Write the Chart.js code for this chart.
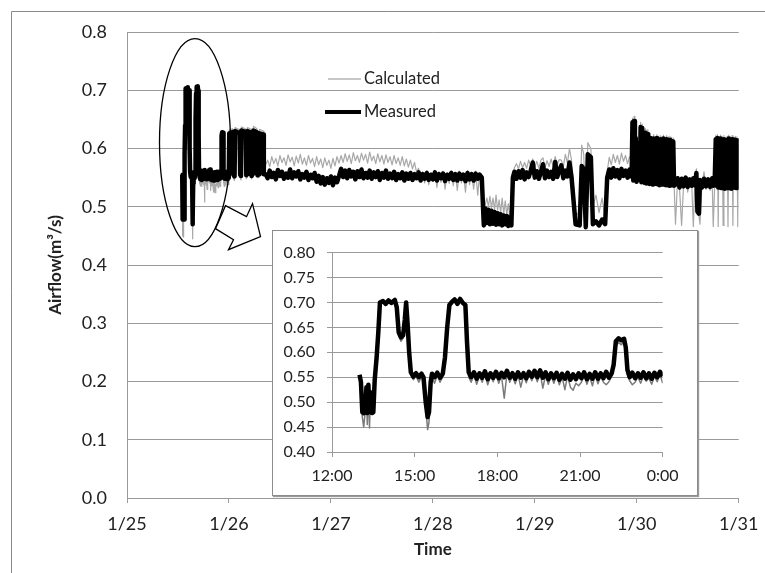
<!DOCTYPE html>
<html>
<head>
<meta charset="utf-8">
<script src="https://cdn.jsdelivr.net/npm/chart.js@4.4.0/dist/chart.umd.min.js"></script>
<style>
  html, body { margin: 0; padding: 0; background: #fff; }
  #wrap { position: relative; width: 765px; height: 573px; overflow: hidden; }
  #main { position: absolute; left: 0; top: 0; }
  #insetBox { position: absolute; left: 272px; top: 230px; width: 424px; height: 264px;
    border: 1px solid #8c8c8c; box-shadow: 1px 1px 1px #9a9a9a; background: #fff; }
  #inset { position: absolute; left: 0; top: 0; }
</style>
</head>
<body>
<div id="wrap">
  <canvas id="main" width="765" height="573"></canvas>
  <div id="insetBox"><canvas id="inset" width="424" height="264"></canvas></div>
</div>
<script>
// axis labels
const mainTickLabels = ['1/25', '1/26', '1/27', '1/28', '1/29', '1/30', '1/31'];
const insetTickLabels = ['12:00', '15:00', '18:00', '21:00', '0:00'];

// 1/25 afternoon, hours after 12:00 (shown in the inset, and in the main chart)
const insetHours = [
  1.00, 1.05, 1.10, 1.15, 1.20, 1.25, 1.28, 1.32, 1.36, 1.40, 1.45, 1.50, 1.55, 1.62, 1.68, 1.74,
  1.85, 1.95, 2.05, 2.15, 2.28, 2.35, 2.42, 2.50, 2.58, 2.64, 2.69, 2.74, 2.80, 2.86, 2.95, 3.05,
  3.15, 3.25, 3.32, 3.40, 3.47, 3.52, 3.58, 3.63, 3.72, 3.82, 3.92, 4.02, 4.10, 4.18, 4.26, 4.35,
  4.45, 4.55, 4.65, 4.75, 4.84, 4.90, 4.96,
  5.05, 5.15, 5.25, 5.35, 5.45, 5.55, 5.65, 5.75, 5.85, 5.95, 6.05, 6.15, 6.25, 6.35, 6.45, 6.55,
  6.65, 6.75, 6.85, 6.95, 7.05, 7.15, 7.25, 7.35, 7.45, 7.55, 7.65, 7.75, 7.85, 7.95, 8.05, 8.15,
  8.25, 8.35, 8.45, 8.55, 8.65, 8.75, 8.85, 8.95, 9.05, 9.15, 9.25, 9.35, 9.45, 9.55, 9.65, 9.75,
  9.85, 9.95, 10.05, 10.15,
  10.22, 10.30, 10.40, 10.50, 10.60, 10.66, 10.72, 10.80, 10.90, 11.00, 11.10, 11.20, 11.30, 11.40,
  11.50, 11.60, 11.70, 11.80, 11.90, 12.00
];
const insetMeasured = [
  0.555, 0.540, 0.480, 0.478, 0.482, 0.530, 0.478, 0.535, 0.480, 0.520, 0.478, 0.480, 0.545, 0.590, 0.640, 0.700,
  0.703, 0.697, 0.704, 0.699, 0.705, 0.690, 0.640, 0.630, 0.634, 0.665, 0.700, 0.660, 0.600, 0.560, 0.551, 0.558,
  0.550, 0.557, 0.550, 0.500, 0.470, 0.480, 0.540, 0.557, 0.550, 0.559, 0.549, 0.557, 0.590, 0.650, 0.695, 0.701,
  0.706, 0.697, 0.707, 0.699, 0.695, 0.620, 0.560,
  0.550, 0.560, 0.547, 0.558, 0.549, 0.562, 0.546, 0.558, 0.549, 0.561, 0.548, 0.559, 0.550, 0.563, 0.549, 0.558,
  0.547, 0.560, 0.549, 0.558, 0.548, 0.561, 0.551, 0.563, 0.550, 0.564, 0.549, 0.560, 0.546, 0.558, 0.548, 0.559,
  0.545, 0.557, 0.547, 0.559, 0.545, 0.556, 0.546, 0.558, 0.548, 0.560, 0.546, 0.557, 0.547, 0.560, 0.547, 0.558,
  0.548, 0.561, 0.549, 0.558,
  0.575, 0.622, 0.628, 0.624, 0.627, 0.610, 0.565, 0.550, 0.559, 0.548, 0.558, 0.549, 0.560, 0.548,
  0.558, 0.547, 0.559, 0.550, 0.561, 0.552
];
const insetCalculated = [
  0.553, 0.535, 0.470, 0.450, 0.478, 0.520, 0.455, 0.530, 0.448, 0.515, 0.476, 0.478, 0.540, 0.585, 0.635, 0.698,
  0.700, 0.695, 0.701, 0.697, 0.702, 0.688, 0.635, 0.622, 0.628, 0.660, 0.697, 0.655, 0.595, 0.555, 0.545, 0.552,
  0.540, 0.551, 0.540, 0.490, 0.445, 0.460, 0.530, 0.550, 0.538, 0.554, 0.540, 0.551, 0.585, 0.645, 0.690, 0.698,
  0.702, 0.695, 0.703, 0.697, 0.690, 0.615, 0.550,
  0.540, 0.556, 0.536, 0.553, 0.540, 0.558, 0.535, 0.552, 0.541, 0.556, 0.538, 0.553, 0.508, 0.558, 0.540, 0.552,
  0.537, 0.555, 0.530, 0.553, 0.539, 0.556, 0.543, 0.557, 0.541, 0.559, 0.528, 0.554, 0.536, 0.553, 0.538, 0.554,
  0.535, 0.551, 0.525, 0.553, 0.530, 0.524, 0.538, 0.533, 0.540, 0.554, 0.536, 0.551, 0.533, 0.555, 0.537, 0.552,
  0.540, 0.535, 0.541, 0.553,
  0.570, 0.612, 0.620, 0.615, 0.622, 0.600, 0.555, 0.543, 0.535, 0.540, 0.550, 0.538, 0.553, 0.542,
  0.548, 0.536, 0.552, 0.541, 0.556, 0.538
];

// 1/26 to 1/31, days after 1/25 00:00
const mainDays = [
  1.000, 1.003, 1.035, 1.040, 1.055, 1.060, 1.105, 1.110, 1.118, 1.122, 1.165, 1.170, 1.178, 1.182,
  1.218, 1.222, 1.236, 1.240, 1.275, 1.280, 1.296, 1.300, 1.338, 1.342,
  1.36, 1.38, 1.40, 1.42, 1.44, 1.46, 1.48, 1.50, 1.52, 1.54, 1.56, 1.58, 1.60, 1.62, 1.64, 1.66,
  1.68, 1.70, 1.72, 1.74, 1.76, 1.78, 1.80, 1.82, 1.84, 1.86, 1.88, 1.90, 1.92, 1.94, 1.96, 1.98,
  2.00, 2.02, 2.04, 2.06, 2.08, 2.10, 2.12, 2.14, 2.16, 2.18, 2.20, 2.22, 2.24, 2.26, 2.28, 2.30,
  2.32, 2.34, 2.36, 2.38, 2.40, 2.42, 2.44, 2.46, 2.48, 2.50, 2.52, 2.54, 2.56, 2.58, 2.60, 2.62,
  2.64, 2.66, 2.68, 2.70, 2.72, 2.74, 2.76, 2.78, 2.80, 2.82, 2.84, 2.86, 2.88, 2.90, 2.92, 2.94,
  2.96, 2.98, 3.00, 3.02, 3.04, 3.06, 3.08, 3.10, 3.12, 3.14, 3.16, 3.18, 3.20, 3.22, 3.24, 3.26,
  3.28, 3.30, 3.32, 3.34, 3.36, 3.38, 3.40, 3.42, 3.44, 3.46, 3.48,
  3.500, 3.515, 3.530, 3.545, 3.560, 3.575, 3.590, 3.605, 3.620, 3.635, 3.650, 3.665, 3.680, 3.695,
  3.710, 3.725, 3.740, 3.755, 3.770, 3.785,
  3.80, 3.82, 3.84, 3.86, 3.88, 3.90, 3.92, 3.94, 3.96, 3.98, 4.00, 4.02, 4.04, 4.06, 4.08, 4.10,
  4.12, 4.14, 4.16, 4.18, 4.20, 4.22, 4.24, 4.26, 4.28, 4.30, 4.32, 4.34, 4.36,
  4.40, 4.44, 4.46, 4.48, 4.50, 4.52, 4.55, 4.57, 4.60, 4.63, 4.66, 4.69, 4.71,
  4.73, 4.75, 4.77, 4.79, 4.81, 4.83, 4.85, 4.87, 4.89, 4.91, 4.93, 4.945,
  4.950, 4.958, 4.966, 4.974, 4.982, 4.990, 4.998, 5.006, 5.014, 5.030, 5.038, 5.046, 5.054, 5.062,
  5.070, 5.078, 5.086, 5.094, 5.102, 5.110, 5.118, 5.126, 5.134, 5.142, 5.150, 5.158, 5.166, 5.174,
  5.182, 5.190, 5.198, 5.206, 5.214, 5.222, 5.230, 5.238, 5.246, 5.254, 5.262, 5.270, 5.278, 5.286,
  5.294, 5.302, 5.310, 5.318, 5.326, 5.334, 5.342, 5.350, 5.358, 5.366,
  5.380, 5.400, 5.420, 5.440, 5.460, 5.480, 5.500, 5.520, 5.540, 5.555, 5.570, 5.585, 5.595, 5.610,
  5.620, 5.640, 5.660, 5.680, 5.700, 5.720, 5.740, 5.750, 5.765,
  5.775, 5.783, 5.791, 5.799, 5.807, 5.815, 5.823, 5.831, 5.839, 5.847, 5.855, 5.863, 5.871, 5.879,
  5.887, 5.895, 5.903, 5.911, 5.919, 5.927, 5.935, 5.943, 5.951, 5.959, 5.967, 5.975, 5.983, 5.991, 5.999
];
const mainMeasured = [
  0.556, 0.626, 0.628, 0.556, 0.552, 0.630, 0.626, 0.555, 0.553, 0.631, 0.628, 0.554, 0.556, 0.630,
  0.627, 0.553, 0.557, 0.631, 0.628, 0.554, 0.556, 0.626, 0.624, 0.556,
  0.556, 0.549, 0.562, 0.551, 0.558, 0.547, 0.563, 0.553, 0.560, 0.548, 0.557, 0.550, 0.564, 0.549, 0.559, 0.552,
  0.561, 0.547, 0.556, 0.550, 0.560, 0.546, 0.555, 0.549, 0.558, 0.543, 0.553, 0.540, 0.551, 0.538, 0.549, 0.541,
  0.552, 0.537, 0.550, 0.542, 0.553, 0.565, 0.551, 0.562, 0.549, 0.563, 0.552, 0.560, 0.547, 0.561, 0.551, 0.564,
  0.549, 0.558, 0.550, 0.562, 0.548, 0.559, 0.551, 0.561, 0.546, 0.558, 0.550, 0.562, 0.548, 0.557, 0.549, 0.560,
  0.546, 0.556, 0.549, 0.559, 0.545, 0.557, 0.548, 0.558, 0.546, 0.556, 0.549, 0.559, 0.545, 0.556, 0.548, 0.558,
  0.546, 0.555, 0.547, 0.559, 0.545, 0.556, 0.549, 0.557, 0.544, 0.555, 0.548, 0.558, 0.546, 0.556, 0.545, 0.557,
  0.548, 0.555, 0.544, 0.558, 0.547, 0.556, 0.545, 0.557, 0.548, 0.555, 0.550,
  0.468, 0.497, 0.472, 0.495, 0.470, 0.493, 0.471, 0.491, 0.469, 0.489, 0.470, 0.487, 0.468, 0.485,
  0.470, 0.484, 0.467, 0.482, 0.468, 0.550,
  0.560, 0.548, 0.561, 0.550, 0.563, 0.547, 0.559, 0.551, 0.562, 0.576, 0.550, 0.561, 0.548, 0.560, 0.573, 0.549,
  0.562, 0.551, 0.560, 0.548, 0.577, 0.551, 0.563, 0.571, 0.549, 0.562, 0.552, 0.576, 0.551,
  0.470, 0.468, 0.570, 0.565, 0.465, 0.590, 0.585, 0.470, 0.475, 0.468, 0.478, 0.470, 0.550,
  0.564, 0.550, 0.566, 0.552, 0.563, 0.549, 0.565, 0.553, 0.562, 0.550, 0.564, 0.552,
  0.556, 0.645, 0.545, 0.647, 0.548, 0.618, 0.543, 0.610, 0.546, 0.550, 0.637, 0.542, 0.635, 0.545,
  0.613, 0.541, 0.627, 0.540, 0.625, 0.543, 0.616, 0.539, 0.618, 0.542, 0.615, 0.538, 0.617, 0.541,
  0.614, 0.539, 0.618, 0.542, 0.615, 0.537, 0.616, 0.540, 0.614, 0.538, 0.617, 0.541, 0.613, 0.537,
  0.616, 0.540, 0.614, 0.536, 0.615, 0.539, 0.613, 0.537, 0.612, 0.536,
  0.538, 0.549, 0.533, 0.548, 0.535, 0.550, 0.534, 0.547, 0.536, 0.549, 0.537, 0.558, 0.492, 0.488,
  0.546, 0.533, 0.548, 0.535, 0.547, 0.534, 0.549, 0.536, 0.546,
  0.616, 0.536, 0.618, 0.533, 0.615, 0.535, 0.617, 0.532, 0.614, 0.534, 0.616, 0.531, 0.613, 0.534,
  0.615, 0.532, 0.617, 0.535, 0.614, 0.531, 0.616, 0.533, 0.613, 0.535, 0.615, 0.532, 0.614, 0.534, 0.612
];
const mainCalculated = [
  0.552, 0.632, 0.634, 0.550, 0.545, 0.636, 0.632, 0.550, 0.546, 0.637, 0.634, 0.548, 0.551, 0.636,
  0.633, 0.548, 0.552, 0.638, 0.634, 0.550, 0.551, 0.633, 0.630, 0.560,
  0.572, 0.580, 0.569, 0.586, 0.574, 0.583, 0.570, 0.588, 0.576, 0.584, 0.571, 0.589, 0.577, 0.585, 0.570, 0.587,
  0.575, 0.590, 0.573, 0.584, 0.571, 0.588, 0.575, 0.583, 0.569, 0.586, 0.572, 0.582, 0.567, 0.584, 0.571, 0.580,
  0.566, 0.583, 0.570, 0.586, 0.575, 0.588, 0.576, 0.591, 0.578, 0.589, 0.574, 0.593, 0.579, 0.588, 0.576, 0.592,
  0.580, 0.590, 0.575, 0.594, 0.579, 0.587, 0.574, 0.591, 0.577, 0.588, 0.573, 0.589, 0.576, 0.586, 0.572, 0.588,
  0.574, 0.584, 0.571, 0.586, 0.570, 0.582, 0.568, 0.580, 0.565, 0.576, 0.560, 0.566, 0.548, 0.560, 0.541, 0.562,
  0.538, 0.558, 0.544, 0.563, 0.533, 0.560, 0.542, 0.561, 0.530, 0.558, 0.540, 0.562, 0.536, 0.559, 0.528, 0.561,
  0.541, 0.557, 0.525, 0.562, 0.538, 0.559, 0.530, 0.561, 0.520, 0.558, 0.545,
  0.475, 0.505, 0.515, 0.500, 0.518, 0.498, 0.515, 0.495, 0.520, 0.494, 0.512, 0.490, 0.515, 0.488,
  0.510, 0.487, 0.505, 0.484, 0.470, 0.555,
  0.567, 0.574, 0.565, 0.578, 0.567, 0.576, 0.566, 0.580, 0.569, 0.582, 0.568, 0.578, 0.566, 0.580, 0.584, 0.567,
  0.579, 0.569, 0.582, 0.570, 0.586, 0.572, 0.581, 0.580, 0.569, 0.590, 0.575, 0.600, 0.580,
  0.490, 0.485, 0.606, 0.590, 0.490, 0.610, 0.600, 0.500, 0.520, 0.490, 0.515, 0.480, 0.560,
  0.585, 0.572, 0.590, 0.576, 0.588, 0.573, 0.592, 0.578, 0.588, 0.574, 0.586, 0.580,
  0.560, 0.652, 0.549, 0.655, 0.552, 0.626, 0.547, 0.618, 0.550, 0.554, 0.645, 0.546, 0.642, 0.549,
  0.620, 0.545, 0.634, 0.544, 0.632, 0.547, 0.622, 0.543, 0.626, 0.546, 0.620, 0.542, 0.624, 0.545,
  0.620, 0.543, 0.624, 0.546, 0.621, 0.541, 0.622, 0.544, 0.620, 0.542, 0.623, 0.545, 0.619, 0.541,
  0.622, 0.544, 0.620, 0.540, 0.621, 0.543, 0.619, 0.541, 0.618, 0.540,
  0.470, 0.545, 0.530, 0.468, 0.540, 0.552, 0.525, 0.548, 0.535, 0.466, 0.545, 0.565, 0.490, 0.485,
  0.470, 0.540, 0.560, 0.530, 0.550, 0.528, 0.545, 0.466, 0.540,
  0.622, 0.540, 0.624, 0.466, 0.621, 0.540, 0.623, 0.536, 0.620, 0.468, 0.622, 0.537, 0.619, 0.540,
  0.621, 0.466, 0.623, 0.540, 0.620, 0.536, 0.622, 0.468, 0.619, 0.540, 0.621, 0.537, 0.620, 0.466, 0.618
];

const FONT = 'Lato';
const TEXT = '#222';
const GRID = '#9a9a9a';

function pts(xs, ys) {
  return xs.map((x, i) => ({ x: x, y: ys[i] }));
}

// main chart: the inset hours become days after 1/25 00:00
const earlyDays = insetHours.map(h => 0.5 + h / 24);
const mainMeasPts = pts(earlyDays, insetMeasured).concat(pts(mainDays, mainMeasured));
const mainCalcPts = pts(earlyDays, insetCalculated).concat(pts(mainDays, mainCalculated));

// keep the plot box where the padding puts it, whatever the end labels need
function fixX(h) {
  return s => { s.height = h; s.paddingLeft = 0; s.paddingRight = 0; };
}

const mainDecor = {
  id: 'mainDecor',
  beforeDraw(chart) {
    const ctx = chart.ctx;
    ctx.save();
    ctx.fillStyle = '#fff';
    ctx.fillRect(0, 0, chart.width, chart.height);
    ctx.strokeStyle = '#8a8a8a';
    ctx.lineWidth = 1;
    ctx.beginPath();
    ctx.moveTo(11.5, chart.height);
    ctx.lineTo(11.5, 11.5);
    ctx.lineTo(chart.width, 11.5);
    ctx.stroke();
    ctx.restore();
  },
  afterDatasetsDraw(chart) {
    const ctx = chart.ctx;
    const xs = chart.scales.x, ys = chart.scales.y;
    ctx.save();
    // ellipse round the 1/25 data
    const cx = xs.getPixelForValue(0.667), cy = ys.getPixelForValue(0.61);
    ctx.strokeStyle = '#000';
    ctx.lineWidth = 1.3;
    ctx.beginPath();
    ctx.ellipse(cx, cy, 35.5, 104, 0, 0, Math.PI * 2);
    ctx.stroke();
    // arrow to the inset
    const arrow = [[30.5, 63], [51.5, 74], [57.5, 61], [65.5, 94], [33.5, 107], [38.5, 97], [20.5, 86]];
    ctx.beginPath();
    arrow.forEach(([dx, dy], i) => i ? ctx.lineTo(cx + dx, cy + dy) : ctx.moveTo(cx + dx, cy + dy));
    ctx.closePath();
    ctx.fillStyle = '#fff';
    ctx.fill();
    ctx.stroke();
    // legend
    ctx.font = '16.5px ' + FONT;
    ctx.fillStyle = TEXT;
    ctx.textBaseline = 'middle';
    const items = [
      { ds: chart.data.datasets[1], x0: 328, x1: 361, y: 79 },
      { ds: chart.data.datasets[0], x0: 325, x1: 361, y: 112 }
    ];
    items.forEach(it => {
      ctx.strokeStyle = it.ds.legendColor;
      ctx.lineWidth = it.ds.legendWidth;
      ctx.beginPath();
      ctx.moveTo(it.x0, it.y);
      ctx.lineTo(it.x1, it.y);
      ctx.stroke();
      ctx.fillText(it.ds.label, 364, it.y);
    });
    ctx.restore();
  }
};

new Chart(document.getElementById('main'), {
  type: 'line',
  data: {
    datasets: [
      { label: 'Measured', data: mainMeasPts, borderColor: '#000', borderWidth: 4.5,
        legendColor: '#000', legendWidth: 4, order: 0 },
      { label: 'Calculated', data: mainCalcPts, borderColor: '#a8a8a8', borderWidth: 1.2,
        legendColor: '#b4b4b4', legendWidth: 1.5, order: 1 }
    ]
  },
  options: {
    responsive: false,
    animation: false,
    devicePixelRatio: 1,
    layout: { padding: { left: 41, right: 26.3, top: 32, bottom: 9 } },
    elements: { point: { radius: 0 }, line: { tension: 0, borderJoinStyle: 'round' } },
    plugins: { legend: { display: false }, tooltip: { enabled: false } },
    scales: {
      x: {
        type: 'linear', min: 0, max: 6,
        afterFit: fixX(66),
        ticks: { stepSize: 1, autoSkip: false, maxRotation: 0, padding: 10, color: TEXT,
          font: { family: FONT, size: 18 }, callback: v => mainTickLabels[v] },
        grid: { drawOnChartArea: false, drawTicks: true, tickLength: 5, color: GRID },
        border: { display: true, color: GRID },
        title: { display: true, text: 'Time', color: TEXT, padding: { top: 4, bottom: 4 },
          font: { family: FONT, size: 17, weight: 'bold' } }
      },
      y: {
        min: 0, max: 0.8,
        afterFit: s => { s.width = 86; },
        ticks: { stepSize: 0.1, padding: 20, color: TEXT, font: { family: FONT, size: 18 },
          callback: v => v.toFixed(1) },
        grid: { color: GRID, drawTicks: false },
        border: { display: true, color: GRID },
        title: { display: true, text: 'Airflow(m³/s)', color: TEXT, padding: { top: 4, bottom: 4 },
          font: { family: FONT, size: 17, weight: 'bold' } }
      }
    }
  },
  plugins: [mainDecor]
});

new Chart(document.getElementById('inset'), {
  type: 'line',
  data: {
    datasets: [
      { label: 'Measured', data: pts(insetHours, insetMeasured), borderColor: '#000', borderWidth: 4.5, order: 0 },
      { label: 'Calculated', data: pts(insetHours, insetCalculated), borderColor: '#7a7a7a', borderWidth: 1.5, order: 1 }
    ]
  },
  options: {
    responsive: false,
    animation: false,
    devicePixelRatio: 1,
    layout: { padding: { left: 0, right: 34.3, top: 21, bottom: 7 } },
    elements: { point: { radius: 0 }, line: { tension: 0, borderJoinStyle: 'round' } },
    plugins: { legend: { display: false }, tooltip: { enabled: false } },
    scales: {
      x: {
        type: 'linear', min: 0, max: 12,
        afterFit: fixX(36),
        ticks: { stepSize: 3, autoSkip: false, maxRotation: 0, padding: 9, color: TEXT,
          font: { family: FONT, size: 16 }, callback: v => insetTickLabels[v / 3] },
        grid: { drawOnChartArea: false, drawTicks: true, tickLength: 5, color: GRID },
        border: { display: true, color: GRID }
      },
      y: {
        min: 0.4, max: 0.8,
        afterFit: s => { s.width = 59; },
        ticks: { stepSize: 0.05, padding: 12, color: TEXT, font: { family: FONT, size: 16 },
          callback: v => v.toFixed(2) },
        grid: { color: GRID, drawTicks: true, tickLength: 5 },
        border: { display: true, color: GRID }
      }
    }
  }
});
</script>
</body>
</html>
